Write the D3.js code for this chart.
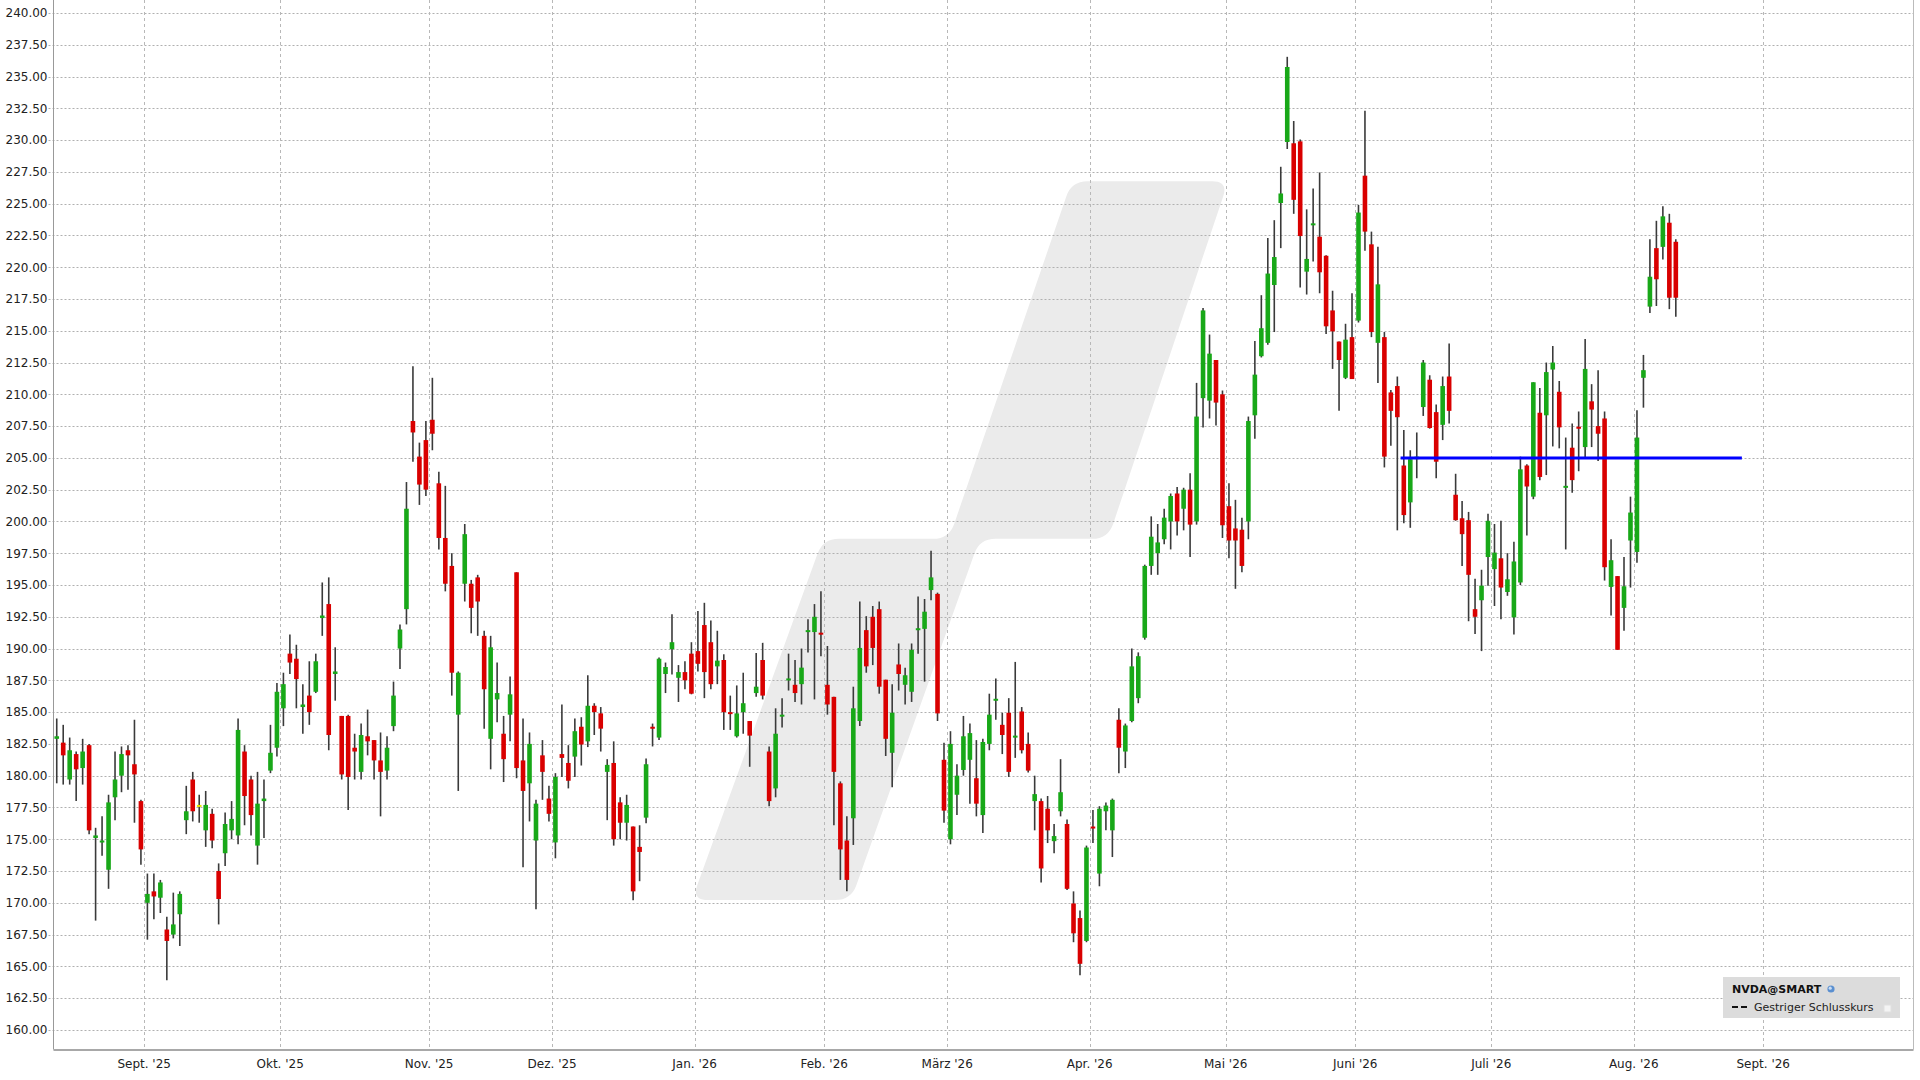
<!DOCTYPE html>
<html><head><meta charset="utf-8">
<script src="https://cdn.jsdelivr.net/npm/d3@7"></script>
<style>
html,body{margin:0;padding:0;background:#fff;}
svg{display:block;font-family:"DejaVu Sans",Verdana,sans-serif;}
</style>
</head><body>
<svg id="chart" width="1920" height="1080"></svg>
<script>
// ---- DATA (trading-day index k = 0 .. 250) ----
const openVals = [
182.9,182.6,179.7,181.7,180.6,182.4,175.1,174.8,172.6,178.3,
180.0,182.0,180.9,178.0,170.0,170.9,170.4,167.9,167.5,169.1,
176.5,179.7,177.7,175.7,177.0,172.5,173.9,175.7,175.3,181.9,
179.7,174.5,178.0,180.4,182.2,185.3,189.6,189.2,185.4,186.3,
186.6,192.4,193.5,188.0,184.7,184.7,182.2,180.3,183.1,182.8,
181.2,180.4,183.9,190.0,193.1,207.9,205.1,206.4,208.0,203.0,
198.7,196.5,184.8,195.1,195.1,195.6,191.0,182.9,186.0,183.3,
184.8,196.0,181.2,179.4,174.9,181.6,178.2,174.75,181.7,181.0,
181.5,183.85,182.7,185.5,184.9,180.3,181.0,177.9,176.3,176.0,
174.4,176.7,183.85,183.0,188.0,189.95,187.7,188.15,189.6,189.8,
191.85,190.5,188.6,189.1,185.0,183.1,185.0,184.3,186.5,189.1,
181.9,179.0,184.7,187.55,187.15,187.2,191.35,191.3,191.25,187.15,
186.2,179.4,174.9,176.65,184.3,191.45,192.5,193.1,187.55,181.8,
188.75,187.15,186.6,191.5,191.55,194.6,194.3,181.25,175.0,178.5,
180.45,181.25,179.8,176.9,182.5,185.95,184.0,184.95,183.05,185.05,
182.5,178.0,178.0,177.4,174.85,177.2,176.2,169.95,168.8,167.0,
176.0,172.3,177.2,175.7,184.4,181.9,184.3,186.1,190.85,196.5,
197.5,198.6,200.0,202.2,201.0,202.5,200.0,209.7,209.5,212.7,
210.0,201.2,199.45,199.35,200.0,208.35,213.0,214.05,218.6,225.05,
229.85,229.75,229.9,219.65,223.35,222.4,220.9,216.6,214.15,211.3,
214.5,215.8,227.2,221.8,214.05,214.5,210.15,210.65,204.4,201.5,
204.9,209.0,211.15,208.6,207.6,211.4,202.1,200.25,200.1,193.1,
193.8,197.2,196.25,197.1,194.45,192.45,195.2,204.4,201.95,208.55,
208.35,211.95,210.2,202.7,205.8,207.45,205.85,209.45,207.5,208.1,
194.85,195.7,193.2,198.5,197.6,211.3,216.9,221.5,221.6,223.5,222.0];
const highVals = [
184.5,184.0,183.0,181.9,182.9,182.5,175.9,176.8,178.5,181.9,
182.3,182.4,184.4,178.1,172.3,172.3,171.8,168.9,170.8,170.9,
179.2,180.3,178.5,178.8,177.4,173.1,177.1,178.0,184.5,182.4,
180.0,180.3,179.7,184.0,187.3,188.1,191.1,190.3,187.2,189.0,
189.6,195.2,195.6,190.1,184.7,184.8,183.3,184.1,185.2,182.8,
183.4,183.1,187.4,191.9,203.1,212.2,206.2,207.9,211.3,203.9,
202.8,197.5,188.2,199.8,195.4,195.8,191.4,191.0,188.9,184.7,
187.8,196.0,184.5,183.4,178.1,182.8,179.2,180.2,185.6,182.4,
184.5,184.6,187.9,185.7,185.4,181.3,182.7,178.3,178.5,176.0,
176.1,181.35,184.1,189.3,188.9,192.7,188.7,189.0,190.5,192.95,
193.6,192.2,191.4,189.55,186.3,187.1,188.1,184.3,189.65,190.45,
182.3,185.3,186.1,189.6,189.1,190.0,192.3,193.5,194.5,190.2,
186.2,179.55,176.8,187.0,193.7,192.55,193.35,193.7,187.55,187.2,
190.4,188.5,190.4,194.1,193.9,197.7,194.4,182.6,183.5,180.9,
184.7,184.1,182.8,182.9,186.45,187.65,184.95,186.1,188.95,185.4,
183.4,180.0,178.2,178.4,176.2,181.3,176.55,170.9,169.4,174.5,
177.3,177.6,177.9,178.2,185.3,184.1,190.0,189.7,196.6,200.4,
199.8,201.0,202.2,202.7,202.65,203.8,210.9,216.8,214.7,212.7,
210.3,203.0,201.7,200.3,208.25,214.2,217.8,222.3,223.7,227.9,
236.55,231.5,230.05,224.55,226.2,227.45,220.95,218.15,214.15,215.55,
217.95,224.9,232.3,222.8,221.6,214.9,210.35,211.4,207.2,205.6,
207.0,212.7,211.5,209.2,211.4,214.0,203.75,201.6,200.75,195.5,
196.2,200.6,199.8,200.05,197.5,198.4,205.1,204.5,210.95,210.5,
212.5,213.8,211.05,206.6,207.7,208.65,214.35,210.8,211.9,208.65,
198.6,195.7,197.2,201.95,208.75,213.1,222.2,223.65,224.8,224.2,222.2];
const lowVals = [
179.4,179.3,179.3,178.0,179.3,175.4,168.6,173.7,171.1,176.5,
178.7,178.9,176.3,173.0,167.1,168.7,169.2,163.9,167.2,166.6,
175.4,176.4,176.3,174.4,174.3,168.3,172.9,175.0,174.6,176.1,
175.3,173.0,175.1,180.2,181.5,183.9,188.0,185.3,183.3,184.0,
186.5,191.0,182.0,185.9,179.7,177.3,179.7,179.7,181.6,179.7,
176.8,179.7,183.5,188.4,191.9,204.7,201.3,202.0,205.6,197.8,
194.5,186.3,178.8,193.7,191.2,191.0,183.7,180.5,184.2,179.5,
182.7,179.8,172.8,176.4,169.5,178.1,176.4,173.5,179.9,179.0,
179.9,180.8,182.25,183.2,181.9,176.5,174.5,175.0,174.9,170.2,
171.7,176.25,182.3,182.8,186.5,187.95,185.8,186.8,186.4,188.2,
186.1,186.8,187.2,183.6,183.6,183.0,183.3,180.7,186.2,186.0,
177.6,178.3,183.8,186.7,185.8,185.6,189.7,186.0,189.4,184.8,
176.1,171.8,170.9,174.55,183.9,188.1,188.7,186.45,181.55,179.1,
186.7,185.6,185.8,189.6,187.4,193.8,184.3,176.3,174.6,176.9,
180.0,177.8,176.8,175.5,182.0,184.4,181.7,179.9,181.4,181.75,
180.25,175.7,171.6,174.7,173.9,176.8,171.0,166.9,164.3,166.9,
174.7,171.3,175.7,173.6,180.2,180.6,184.2,185.7,190.7,195.8,
195.8,198.2,197.8,198.9,199.3,197.2,199.75,207.4,208.1,207.55,
198.7,197.1,194.7,196.0,198.6,206.5,212.9,213.9,214.9,221.5,
229.3,224.2,218.4,217.85,220.45,217.95,214.75,212.0,208.7,211.2,
211.2,215.65,221.3,214.5,210.9,204.25,205.95,199.3,199.85,199.5,
203.4,208.3,207.3,203.4,206.4,207.7,200.05,196.5,192.15,191.15,
189.8,194.95,193.35,192.3,194.15,191.1,195.0,198.9,201.75,203.25,
203.65,205.9,205.75,197.8,202.25,203.95,205.05,205.85,204.75,195.35,
192.6,189.9,191.4,194.8,196.75,208.95,216.4,216.95,220.6,216.7,216.1];
const closeVals = [
183.1,181.6,182.0,180.5,181.9,175.7,175.3,174.9,177.9,179.7,
181.7,181.6,180.1,174.2,170.7,170.5,171.6,167.0,168.3,170.7,
177.2,177.2,177.7,177.7,174.9,170.3,176.2,176.6,183.6,178.4,
176.9,177.8,178.2,181.8,186.6,187.2,188.9,187.6,185.6,185.0,
189.0,192.6,183.2,188.2,180.1,179.9,181.9,183.2,182.7,181.2,
180.3,182.2,186.3,191.5,201.0,207.0,202.9,202.5,206.9,198.7,
195.1,188.1,188.1,199.0,193.2,193.7,186.8,190.1,186.5,181.3,
186.4,180.6,178.8,182.5,177.8,180.3,177.0,179.9,181.4,179.6,
183.5,182.45,185.5,185.0,183.7,180.85,175.0,176.3,177.7,170.9,
174.0,180.9,183.7,189.2,188.55,190.5,188.15,187.5,186.45,188.8,
188.15,187.2,189.05,185.0,184.9,184.9,185.7,183.15,187.0,186.3,
178.0,183.3,184.8,187.65,186.5,188.5,191.45,192.5,191.1,185.6,
180.3,174.2,171.8,185.3,190.05,188.6,190.05,187.0,182.9,184.95,
188.0,187.9,189.9,191.6,192.9,195.6,184.9,177.25,182.5,180.0,
183.1,183.35,177.8,182.65,184.8,186.05,183.2,180.3,183.15,182.0,
180.4,178.55,172.7,175.7,175.25,178.7,171.1,167.6,165.2,174.35,
175.9,177.4,177.65,178.1,182.2,183.95,188.6,189.4,196.5,198.8,
198.35,200.3,202.0,200.0,202.5,199.75,208.25,216.6,213.2,209.35,
199.7,198.5,198.5,196.5,207.9,211.55,215.2,219.5,220.8,225.8,
235.75,225.3,222.45,220.65,223.45,219.6,215.35,214.95,212.7,214.3,
211.2,224.3,222.8,214.9,218.65,205.1,208.7,208.2,200.5,204.9,
205.1,212.5,207.35,204.7,210.65,208.7,200.1,199.0,195.8,192.5,
194.95,200.05,197.55,194.8,195.45,196.85,204.1,202.75,210.95,203.5,
211.75,212.5,207.4,202.8,203.25,207.3,212.0,208.8,206.9,196.4,
196.95,189.9,194.9,200.7,206.6,211.9,219.25,219.05,224.0,217.6,217.6];

// x-axis: month labels and the index of each month's first trading day
const monthLabels = ["Sept. '25","Okt. '25","Nov. '25","Dez. '25","Jan. '26","Feb. '26","März '26","Apr. '26","Mai '26","Juni '26","Juli '26","Aug. '26","Sept. '26"];
const monthStartIndex = [14,35,58,77,99,119,138,160,181,201,222,244,264];
// y-axis ticks
const yTickValues = d3.range(160, 240.001, 2.5);
// yesterday's close reference line
const lastCloseValue = 205.0;
const lastCloseSpan = [207.5, 260.2];
const legendTitle = "NVDA@SMART";
const legendItem = "Gestriger Schlusskurs";

// ---- LAYOUT ----
const W = 1920, H = 1080;
const plot = {left: 53.5, right: 1913.5, top: 0, bottom: 1049.5};
const svg = d3.select("#chart");

const n = Math.min(openVals.length, highVals.length, lowVals.length, closeVals.length);
const candles = d3.range(n).map(i => ({i, o: openVals[i], h: highVals[i], l: lowVals[i], c: closeVals[i]}));

const x = d3.scaleLinear().domain([-0.5, 286.7]).range([plot.left, plot.right]);
const y = d3.scaleLinear().domain([158.46, 241.02]).range([plot.bottom, plot.top]);

// watermark logo (decorative), fractions of plot area
const pw = plot.right - plot.left, ph = plot.bottom - plot.top;
const logoFrac = [[0.3432,0.8576],[0.4137,0.5134],[0.4815,0.5134],[0.5473,0.1727],[0.6316,0.1727],[0.5670,0.5134],[0.4979,0.5134],[0.4288,0.8576]];
const logoPts = logoFrac.map(([fx,fy]) => [plot.left + fx*pw, plot.top + fy*ph]);
function roundedPath(pts, r) {
  const m = pts.length; let d = "";
  for (let j = 0; j < m; j++) {
    const p0 = pts[(j-1+m)%m], p1 = pts[j], p2 = pts[(j+1)%m];
    const v1 = [p0[0]-p1[0], p0[1]-p1[1]], v2 = [p2[0]-p1[0], p2[1]-p1[1]];
    const l1 = Math.hypot(...v1), l2 = Math.hypot(...v2);
    const rr = Math.min(r, l1/2, l2/2);
    const a = [p1[0]+v1[0]/l1*rr, p1[1]+v1[1]/l1*rr];
    const b = [p1[0]+v2[0]/l2*rr, p1[1]+v2[1]/l2*rr];
    d += (j === 0 ? "M" : "L") + a[0] + "," + a[1] + "Q" + p1[0] + "," + p1[1] + " " + b[0] + "," + b[1];
  }
  return d + "Z";
}
svg.append("path").attr("d", roundedPath(logoPts, 16)).attr("fill", "#ebebeb");

// horizontal grid
svg.append("g").selectAll("line").data(yTickValues).join("line")
  .attr("x1", plot.left - 5).attr("x2", plot.right)
  .attr("y1", d => Math.round(y(d)) + 0.5).attr("y2", d => Math.round(y(d)) + 0.5)
  .attr("stroke", "#b0b0b0").attr("stroke-width", 1).attr("stroke-dasharray", "2,2");

// vertical grid at month starts
svg.append("g").selectAll("line").data(monthStartIndex).join("line")
  .attr("x1", d => Math.round(x(d - 0.5)) + 0.5).attr("x2", d => Math.round(x(d - 0.5)) + 0.5)
  .attr("y1", plot.top).attr("y2", plot.bottom)
  .attr("stroke", "#b8b8b8").attr("stroke-width", 1).attr("stroke-dasharray", "3,3");

// y labels
svg.append("g").selectAll("text").data(yTickValues).join("text")
  .attr("x", plot.left - 6).attr("y", d => y(d)).attr("dy", "0.36em")
  .attr("text-anchor", "end").attr("font-size", 12).attr("fill", "#222")
  .text(d => d.toFixed(2));

// x labels
svg.append("g").selectAll("text").data(monthStartIndex).join("text")
  .attr("x", d => x(d - 0.5)).attr("y", 1067.5)
  .attr("text-anchor", "middle").attr("font-size", 12).attr("fill", "#222")
  .text((d, j) => monthLabels[j]);

// frame
svg.append("line").attr("x1", plot.left).attr("x2", plot.left).attr("y1", plot.top).attr("y2", plot.bottom)
  .attr("stroke", "#999").attr("stroke-width", 1);
svg.append("line").attr("x1", plot.right).attr("x2", plot.right).attr("y1", plot.top).attr("y2", plot.bottom)
  .attr("stroke", "#bbb").attr("stroke-width", 1);
svg.append("line").attr("x1", plot.left).attr("x2", plot.right).attr("y1", plot.bottom + 0.5).attr("y2", plot.bottom + 0.5)
  .attr("stroke", "#a8a8a8").attr("stroke-width", 2);

// candles
const bodyW = 4.6;
const colorOf = d => d.c > d.o ? "#18a818" : (d.c < d.o ? "#d90000" : "#e6e600");
const cg = svg.append("g");
cg.selectAll("line").data(candles).join("line")
  .attr("x1", d => x(d.i)).attr("x2", d => x(d.i))
  .attr("y1", d => y(d.h)).attr("y2", d => y(d.l))
  .attr("stroke", "#3a3a3a").attr("stroke-width", 1.6);
cg.selectAll("rect").data(candles).join("rect")
  .attr("x", d => x(d.i) - bodyW / 2).attr("width", bodyW)
  .attr("y", d => y(Math.max(d.o, d.c)))
  .attr("height", d => Math.max(2, y(Math.min(d.o, d.c)) - y(Math.max(d.o, d.c))))
  .attr("fill", colorOf);

// yesterday's close line
svg.append("line")
  .attr("x1", x(lastCloseSpan[0])).attr("x2", x(lastCloseSpan[1]))
  .attr("y1", y(lastCloseValue)).attr("y2", y(lastCloseValue))
  .attr("stroke", "#0000ff").attr("stroke-width", 3);

// legend
const lg = svg.append("g");
lg.append("rect").attr("x", 1723).attr("y", 977).attr("width", 177).attr("height", 41).attr("fill", "#dcdcdc");
lg.append("text").attr("x", 1732).attr("y", 993).attr("font-size", 11).attr("font-weight", "bold").attr("fill", "#111").text(legendTitle);
const globe = lg.append("g").attr("transform", "translate(1831,989)");
globe.append("circle").attr("r", 3.6).attr("fill", "#5a8fd0");
globe.append("circle").attr("r", 1.6).attr("cx", -0.8).attr("cy", -0.8).attr("fill", "#c9dcf2");
lg.append("line").attr("x1", 1732).attr("x2", 1749).attr("y1", 1007).attr("y2", 1007)
  .attr("stroke", "#111").attr("stroke-width", 2).attr("stroke-dasharray", "6,3");
lg.append("text").attr("x", 1754).attr("y", 1011).attr("font-size", 11).attr("fill", "#222").text(legendItem);
lg.append("rect").attr("x", 1884).attr("y", 1005).attr("width", 7).attr("height", 7).attr("fill", "#f4f4f4").attr("stroke", "#e0e0e0");
</script>
</body></html>
